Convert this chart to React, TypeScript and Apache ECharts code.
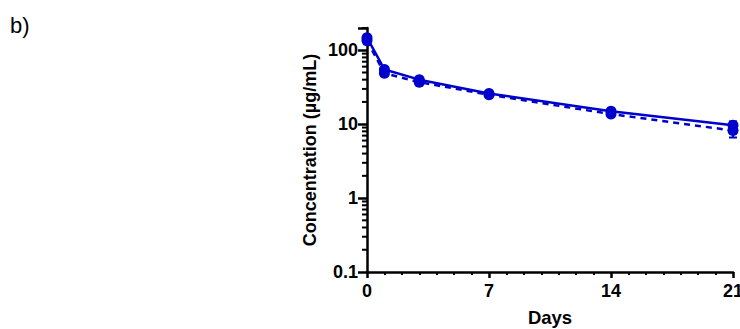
import React, { useEffect, useRef } from "react";
import * as echarts from "echarts";

const days = [0, 1, 3, 7, 14, 21];
const solidValues = [148, 55, 40, 26, 15, 9.7];
const solidErrors = [12, 4, 2, 1.2, 0.8, 1.2];
const dashedValues = [135, 49, 37, 25, 13.7, 8.2];
const dashedErrors = [14, 4, 2, 1, 1, 1.6];
const yMajorTicks = [0.1, 1, 10, 100];
const yMinorTicks = [
  0.2, 0.3, 0.4, 0.5, 0.6, 0.7, 0.8, 0.9,
  2, 3, 4, 5, 6, 7, 8, 9,
  20, 30, 40, 50, 60, 70, 80, 90,
  200,
];
const xTickLabels = ["0", "7", "14", "21"];

const BLUE = "#0000cc";

function App() {
  const ref = useRef<HTMLDivElement>(null);
  useEffect(() => {
    if (!ref.current) return;
    const chart = echarts.init(ref.current, undefined, { renderer: "svg" });
    const font = "Liberation Sans, Arial, sans-serif";

    const errData = (vals: number[], errs: number[]) =>
      days.map((d, i) => [d, vals[i] - errs[i], vals[i] + errs[i]]);

    const errSeries = (vals: number[], errs: number[]) => ({
      type: "custom",
      data: errData(vals, errs),
      z: 3,
      silent: true,
      renderItem: (params: any, api: any) => {
        const x = api.value(0);
        const lo = api.coord([x, api.value(1)]);
        const hi = api.coord([x, api.value(2)]);
        const w = 4;
        return {
          type: "group",
          children: [
            { type: "line", shape: { x1: lo[0], y1: lo[1], x2: hi[0], y2: hi[1] }, style: { stroke: BLUE, lineWidth: 2 } },
            { type: "line", shape: { x1: lo[0] - w, y1: lo[1], x2: lo[0] + w, y2: lo[1] }, style: { stroke: BLUE, lineWidth: 2 } },
            { type: "line", shape: { x1: hi[0] - w, y1: hi[1], x2: hi[0] + w, y2: hi[1] }, style: { stroke: BLUE, lineWidth: 2 } },
          ],
        };
      },
    });

    const minorTickSeries = {
      type: "custom",
      data: yMinorTicks.map((v) => [0, v]),
      silent: true,
      z: 10,
      clip: false,
      renderItem: (params: any, api: any) => {
        const p = api.coord([0, api.value(1)]);
        return {
          type: "line",
          shape: { x1: p[0] - 5, y1: p[1], x2: p[0], y2: p[1] },
          style: { stroke: "#000", lineWidth: 2 },
        };
      },
    };

    chart.setOption({
      animation: false,
      grid: { left: 367, right: 7, top: 28, bottom: 57, containLabel: false, outerBoundsMode: "none" },
      graphic: [
        {
          type: "text",
          left: 10,
          top: 14,
          style: { text: "b)", font: "22px Liberation Sans, Arial, sans-serif", fill: "#000" },
        },
      ],
      xAxis: {
        type: "value",
        min: 0,
        max: 21,
        interval: 7,
        name: "Days",
        nameLocation: "middle",
        nameGap: 36,
        nameTextStyle: { fontFamily: font, fontWeight: "bold", fontSize: 18.5, color: "#000" },
        axisLine: { onZero: false, lineStyle: { color: "#000", width: 2.5 } },
        axisTick: { show: true, length: 6, lineStyle: { color: "#000", width: 2.5 } },
        minorTick: { show: true, splitNumber: 7, length: 3, lineStyle: { color: "#000", width: 2 } },
        splitLine: { show: false },
        minorSplitLine: { show: false },
        axisLabel: {
          fontFamily: font,
          fontWeight: "bold",
          fontSize: 18,
          color: "#000",
          margin: 10,
          hideOverlap: false,
          formatter: (v: number) => (xTickLabels.includes(String(v)) ? String(v) : ""),
        },
      },
      yAxis: {
        type: "log",
        logBase: 10,
        min: 0.1,
        max: 200,
        name: "Concentration (µg/mL)",
        nameLocation: "middle",
        nameGap: 48,
        nameTextStyle: { fontFamily: font, fontWeight: "bold", fontSize: 18, color: "#000" },
        axisLine: { lineStyle: { color: "#000", width: 2.5 } },
        axisTick: { show: true, length: 9, lineStyle: { color: "#000", width: 2.5 } },
        splitLine: { show: false },
        axisLabel: {
          fontFamily: font,
          fontWeight: "bold",
          fontSize: 18,
          color: "#000",
          margin: 9,
          formatter: (v: number) => {
            const m = yMajorTicks.find((t) => Math.abs(t - v) / t < 1e-6);
            return m !== undefined ? String(m) : "";
          },
        },
      },
      series: [
        {
          type: "line",
          data: days.map((d, i) => [d, solidValues[i]]),
          symbol: "circle",
          symbolSize: 11,
          lineStyle: { color: BLUE, width: 2.5, type: "solid" },
          itemStyle: { color: BLUE },
          z: 4,
        },
        {
          type: "line",
          data: days.map((d, i) => [d, dashedValues[i]]),
          symbol: "circle",
          symbolSize: 11,
          lineStyle: { color: BLUE, width: 2.5, type: [6, 5] },
          itemStyle: { color: BLUE },
          z: 4,
        },
        errSeries(solidValues, solidErrors),
        errSeries(dashedValues, dashedErrors),
        minorTickSeries,
      ],
    });
    return () => chart.dispose();
  }, []);
  return <div ref={ref} style={{ width: 740, height: 329, position: "absolute", left: 0, top: 0, background: "#fff" }} />;
}

export default App;
